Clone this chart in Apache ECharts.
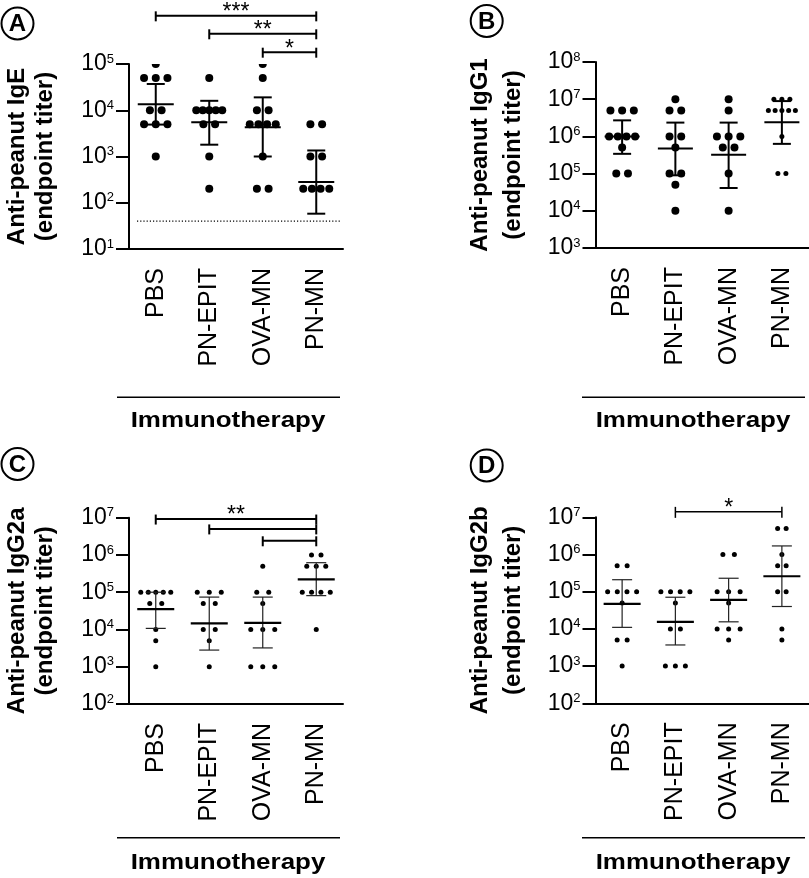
<!DOCTYPE html>
<html><head><meta charset="utf-8">
<script src="https://cdn.jsdelivr.net/npm/echarts@6/dist/echarts.min.js"></script>
<style>html,body{margin:0;padding:0;background:#fff}#c{width:809px;height:878px}</style>
</head><body><div id="c"></div>
<script>
const FONT = '"Liberation Sans", Arial, Helvetica, sans-serif';
const categories = ['PBS', 'PN-EPIT', 'OVA-MN', 'PN-MN'];

// Panel A: Anti-peanut IgE
const igeRange = [10, 1e5];
const igePBS  = [1e5, 5e4, 5e4, 5e4, 1e4, 1e4, 5e3, 5e3, 5e3, 1e3];
const igeEPIT = [5e4, 1e4, 1e4, 1e4, 1e4, 1e4, 5e3, 5e3, 1e3, 200];
const igeOVA  = [1e5, 5e4, 1e4, 1e4, 5e3, 5e3, 5e3, 5e3, 1e3, 200, 200];
const igePNMN = [5e3, 5e3, 1e3, 1e3, 200, 200, 200, 200];
const igeMean = [13500, 5500, 4300, 280];
const igeLow  = [4900, 1800, 1000, 58];
const igeHigh = [37000, 16000, 19000, 1350];
const igeLOD = 40;

// Panel B: Anti-peanut IgG1
const igg1Range = [1e3, 1e8];
const igg1PBS  = [5e6, 5e6, 5e6, 1e6, 1e6, 1e6, 1e6, 5e5, 1e5, 1e5];
const igg1EPIT = [1e7, 5e6, 5e6, 1e6, 1e6, 5e5, 1e5, 1e5, 5e4, 1e4];
const igg1OVA  = [1e7, 5e6, 1e6, 1e6, 1e6, 5e5, 5e5, 1e5, 1e4];
const igg1PNMN = [1e7, 1e7, 1e7, 5e6, 5e6, 5e6, 5e6, 5e6, 1e6, 1e5, 1e5];
const igg1Mean = [1e6, 4.7e5, 3.2e5, 2.4e6];
const igg1Low  = [3.4e5, 9e4, 4.1e4, 6.3e5];
const igg1High = [2.7e6, 2.35e6, 2.35e6, 8.9e6];

// Panel C: Anti-peanut IgG2a
const igg2aRange = [1e2, 1e7];
const igg2aPBS  = [1e5, 1e5, 1e5, 1e5, 1e5, 5e4, 5e4, 1e4, 5e3, 1e3];
const igg2aEPIT = [1e5, 1e5, 1e5, 5e4, 5e4, 1e4, 1e4, 5e3, 1e3];
const igg2aOVA  = [5e5, 1e5, 1e5, 5e4, 1e4, 1e4, 1e4, 1e3, 1e3, 1e3];
const igg2aPNMN = [1e6, 1e6, 5e5, 5e5, 5e5, 1e5, 1e5, 1e5, 1e5, 1e4];
const igg2aMean = [3.5e4, 1.45e4, 1.5e4, 2.2e5];
const igg2aLow  = [1.07e4, 2.8e3, 3.2e3, 8.1e4];
const igg2aHigh = [1e5, 7.4e4, 7.4e4, 6.2e5];

// Panel D: Anti-peanut IgG2b
const igg2bRange = [1e2, 1e7];
const igg2bPBS  = [5e5, 5e5, 1e5, 1e5, 1e5, 1e5, 5e4, 5e3, 5e3, 1e3];
const igg2bEPIT = [1e5, 1e5, 1e5, 1e5, 5e4, 1e4, 1e4, 1e3, 1e3, 1e3];
const igg2bOVA  = [1e6, 1e6, 1e5, 1e5, 1e5, 5e4, 1e4, 1e4, 1e4, 5e3];
const igg2bPNMN = [5e6, 5e6, 1e6, 5e5, 5e5, 1e5, 1e5, 1e4, 5e3];
const igg2bMean = [4.7e4, 1.55e4, 6e4, 2.6e5];
const igg2bLow  = [1.1e4, 3.7e3, 1.55e4, 4e4];
const igg2bHigh = [2.1e5, 7.1e4, 2.3e5, 1.7e6];

// Significance brackets: from category, to category, height (data units), label
const sigAFrom = [0, 1, 2], sigATo = [3, 3, 3], sigALevel = [1.1e6, 4.5e5, 1.8e5], sigAText = ['***', '**', '*'];
const sigCFrom = [0, 1, 2], sigCTo = [3, 3, 3], sigCLevel = [9.2e6, 5e6, 2.4e6], sigCText = ['**', '', ''];
const sigDFrom = [1], sigDTo = [3], sigDLevel = [1.4e7], sigDText = ['*'];

// ---------- layout helpers ----------
// spread equal values of a group side by side (simple swarm)
function swarm(groups, sizes, spacingMax, spanMax) {
  const out = [];
  groups.forEach((vals, ci) => {
    const counts = {}, seen = {};
    vals.forEach(v => { counts[v] = (counts[v] || 0) + 1; });
    vals.forEach(v => {
      const n = counts[v];
      const i = seen[v] = (seen[v] === undefined ? 0 : seen[v] + 1);
      const s = n > 1 ? Math.min(spacingMax[ci], spanMax[ci] / (n - 1)) : 0;
      out.push([ci, v, (i - (n - 1) / 2) * s, sizes[ci]]);
    });
  });
  return out;
}

function dots(idx, data) {
  return {
    type: 'custom', xAxisIndex: idx, yAxisIndex: idx, z: 3, silent: true, clip: true,
    data: data, encode: { x: 0, y: 1 },
    renderItem(params, api) {
      const p = api.coord([api.value(0), api.value(1)]);
      return { type: 'circle', shape: { cx: p[0] + api.value(2), cy: p[1], r: api.value(3) / 2 }, style: { fill: '#000' } };
    }
  };
}

function lodSeries(idx, lod) {
  return {
    type: 'custom', xAxisIndex: idx, yAxisIndex: idx, z: 2, silent: true, clip: false,
    data: [[0, lod]], encode: { x: 0, y: 1 },
    renderItem(params, api) {
      const p = api.coord([0, api.value(1)]);
      const cs = params.coordSys;
      return { type: 'line', shape: { x1: cs.x + 8, y1: p[1], x2: cs.x + cs.width - 2, y2: p[1] },
        style: { stroke: '#000', lineWidth: 1.2, lineDash: [1.2, 2] } };
    }
  };
}

function barsSeries(idx, means, lows, highs, st) {
  return {
    type: 'custom', xAxisIndex: idx, yAxisIndex: idx, z: 5, silent: true, clip: false,
    data: means.map((m, i) => [i, m, lows[i], highs[i]]),
    encode: { x: 0, y: 1 },
    renderItem(params, api) {
      const c = api.value(0);
      const pm = api.coord([c, api.value(1)]);
      const pl = api.coord([c, api.value(2)]);
      const ph = api.coord([c, api.value(3)]);
      const x = pm[0];
      const bs = { stroke: st.barColor, lineWidth: st.barW };
      return { type: 'group', children: [
        { type: 'line', shape: { x1: x, y1: ph[1], x2: x, y2: pl[1] }, style: bs },
        { type: 'line', shape: { x1: x - st.cap, y1: ph[1], x2: x + st.cap, y2: ph[1] }, style: bs },
        { type: 'line', shape: { x1: x - st.cap, y1: pl[1], x2: x + st.cap, y2: pl[1] }, style: bs },
        { type: 'line', shape: { x1: x - st.mean, y1: pm[1], x2: x + st.mean, y2: pm[1] }, style: { stroke: '#000', lineWidth: st.meanW } }
      ]};
    }
  };
}

function sigSeries(idx, from, to, level, text, st) {
  return {
    type: 'custom', xAxisIndex: idx, yAxisIndex: idx, z: 6, silent: true, clip: false,
    data: from.map((f, i) => [f, level[i], to[i]]),
    encode: { x: 0, y: 1 },
    renderItem(params, api) {
      const a = api.coord([api.value(0), api.value(1)]);
      const b = api.coord([api.value(2), api.value(1)]);
      const ls = { stroke: '#000', lineWidth: st.w };
      const y = a[1];
      const ch = [
        { type: 'line', shape: { x1: a[0], y1: y, x2: b[0], y2: y }, style: ls },
        { type: 'line', shape: { x1: a[0], y1: y - st.tick, x2: a[0], y2: y + st.tick + 1 }, style: ls },
        { type: 'line', shape: { x1: b[0], y1: y - st.tick, x2: b[0], y2: y + st.tick + 1 }, style: ls }
      ];
      const t = text[params.dataIndex];
      if (t) ch.push({ type: 'text', x: (a[0] + b[0]) / 2, y: y - 3,
        style: { text: t, fill: '#000', font: '23px ' + FONT, textAlign: 'center', textVerticalAlign: 'middle' } });
      return { type: 'group', children: ch };
    }
  };
}

function xAx(gi) {
  return {
    type: 'category', gridIndex: gi, data: categories, boundaryGap: true,
    axisLine: { onZero: false, lineStyle: { color: '#000', width: 2 } },
    axisTick: { alignWithLabel: true, length: 13, lineStyle: { color: '#000', width: 2 } },
    axisLabel: { rotate: 90, margin: 19, interval: 0, fontSize: 25, color: '#000', fontFamily: FONT },
    splitLine: { show: false }
  };
}

function yAx(gi, range, name, gap, lh) {
  return {
    type: 'log', logBase: 10, gridIndex: gi, min: range[0], max: range[1],
    name: name, nameLocation: 'middle', nameRotate: 90, nameGap: gap,
    nameTextStyle: { fontSize: 24, fontWeight: 'bold', color: '#000', fontFamily: FONT, lineHeight: lh, align: 'center' },
    axisLine: { show: true, onZero: false, lineStyle: { color: '#000', width: 2 } },
    axisTick: { show: true, length: 13, lineStyle: { color: '#000', width: 2 } },
    minorTick: { show: false }, splitLine: { show: false },
    axisLabel: {
      margin: 15, color: '#000',
      formatter: v => '{b|10}{s|' + Math.round(Math.log10(v)) + '}',
      rich: {
        b: { fontSize: 23, fontFamily: FONT, color: '#000' },
        s: { fontSize: 13, fontFamily: FONT, color: '#000', padding: [0, 0, 10, 0] }
      }
    }
  };
}

const big = { barColor: '#000', barW: 2, cap: 9, mean: 18, meanW: 2 };
const small = { barColor: '#222', barW: 1.2, cap: 10, mean: 18.5, meanW: 2.2 };

const series = [
  lodSeries(0, igeLOD),
  dots(0, swarm([igePBS, igeEPIT, igeOVA, igePNMN], [8, 8, 8, 8], [11.7, 11.7, 11.7, 11.7], [26, 26, 26, 26])),
  barsSeries(0, igeMean, igeLow, igeHigh, big),
  sigSeries(0, sigAFrom, sigATo, sigALevel, sigAText, { w: 2, tick: 4.5 }),
  dots(1, swarm([igg1PBS, igg1EPIT, igg1OVA, igg1PNMN], [8, 8, 8, 5], [11.7, 11.7, 11.7, 8], [26, 26, 26, 27])),
  barsSeries(1, igg1Mean, igg1Low, igg1High, { barColor: '#000', barW: 2, cap: 9, mean: 17.5, meanW: 2 }),
  dots(2, swarm([igg2aPBS, igg2aEPIT, igg2aOVA, igg2aPNMN], [5, 5, 5, 5], [12, 12, 12, 9.5], [30, 30, 30, 28])),
  barsSeries(2, igg2aMean, igg2aLow, igg2aHigh, small),
  sigSeries(2, sigCFrom, sigCTo, sigCLevel, sigCText, { w: 2, tick: 4.5 }),
  dots(3, swarm([igg2bPBS, igg2bEPIT, igg2bOVA, igg2bPNMN], [5, 5, 5, 5], [10, 10, 11.5, 8.5], [29, 29, 29, 28])),
  barsSeries(3, igg2bMean, igg2bLow, igg2bHigh, small),
  sigSeries(3, sigDFrom, sigDTo, sigDLevel, sigDText, { w: 1.5, tick: 5 })
];

function panelLabel(cx, cy, letter) {
  return [
    { type: 'circle', shape: { cx: cx, cy: cy, r: 16 }, style: { fill: '#fff', stroke: '#000', lineWidth: 2 } },
    { type: 'text', x: cx, y: cy + 1, style: { text: letter, fill: '#000', font: 'bold 24px ' + FONT, textAlign: 'center', textVerticalAlign: 'middle' } }
  ];
}
function groupTitle(x1, x2, ly, cx, ty) {
  return [
    { type: 'line', shape: { x1: x1, y1: ly, x2: x2, y2: ly }, style: { stroke: '#000', lineWidth: 1.5 } },
    { type: 'text', x: cx, y: ty, scaleX: 1.18, style: { text: 'Immunotherapy', fill: '#000', font: 'bold 22px ' + FONT, textAlign: 'center', textVerticalAlign: 'middle' } }
  ];
}

const option = {
  animation: false,
  backgroundColor: '#fff',
  grid: [
    { left: 129, top: 64, width: 214, height: 185 },
    { left: 595.5, top: 62, width: 213, height: 186 },
    { left: 129, top: 517.7, width: 214, height: 186.3 },
    { left: 595.5, top: 517.3, width: 213, height: 186 }
  ],
  xAxis: [xAx(0), xAx(1), xAx(2), xAx(3)],
  yAxis: [
    yAx(0, igeRange, 'Anti-peanut IgE\n(endpoint titer)', 70, 28),
    yAx(1, igg1Range, 'Anti-peanut IgG1\n(endpoint titer)', 66, 33),
    yAx(2, igg2aRange, 'Anti-peanut IgG2a\n(endpoint titer)', 70, 28),
    yAx(3, igg2bRange, 'Anti-peanut IgG2b\n(endpoint titer)', 66, 33)
  ],
  series: series,
  graphic: [].concat(
    panelLabel(17.5, 23.5, 'A'), panelLabel(486.7, 21, 'B'),
    panelLabel(17.5, 464, 'C'), panelLabel(486.7, 465.5, 'D'),
    groupTitle(117, 340, 397.3, 228, 421), groupTitle(582, 805, 397.3, 693, 421),
    groupTitle(117, 340, 837.7, 228, 863), groupTitle(582, 805, 837.7, 693, 863)
  )
};

const chart = echarts.init(document.getElementById('c'), null, { renderer: 'canvas' });
chart.setOption(option);
</script>
</body></html>
